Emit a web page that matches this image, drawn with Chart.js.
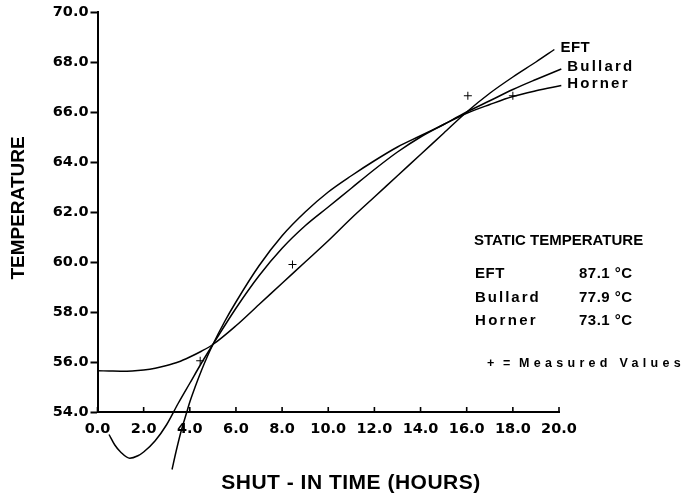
<!DOCTYPE html>
<html>
<head>
<meta charset="utf-8">
<script src="https://cdn.jsdelivr.net/npm/chart.js@4"></script>
<style>
body { margin: 0; background: #fff; }
canvas { display: block; }
</style>
</head>
<body>
<canvas id="chart" width="687" height="494"></canvas>
<script>
// curves (hours, temperature)
var eftX = [0, 0.5, 1, 1.5, 2, 2.5, 3, 3.5, 4, 4.5, 5, 6, 7, 8, 9, 10, 11, 12, 13, 14, 15, 16, 17, 18, 19, 19.8];
var eftY = [55.65, 55.64, 55.63, 55.64, 55.68, 55.75, 55.86, 56.0, 56.2, 56.43, 56.7, 57.45, 58.3, 59.15, 60.0, 60.85, 61.75, 62.6, 63.45, 64.3, 65.15, 66.0, 66.75, 67.4, 68.0, 68.5];

var bullardX = [0.5, 0.75, 1, 1.4, 1.75, 2, 2.5, 3, 3.5, 4, 4.5, 5, 6, 7, 8, 9, 10, 11, 12, 13, 14, 15, 16, 17, 18, 19, 20.1];
var bullardY = [53.1, 52.68, 52.4, 52.15, 52.25, 52.4, 52.85, 53.5, 54.35, 55.15, 55.95, 56.7, 58.15, 59.45, 60.55, 61.45, 62.2, 62.95, 63.7, 64.4, 65.0, 65.5, 66.0, 66.45, 66.9, 67.3, 67.72];

var hornerX = [3.23, 3.4, 3.6, 3.87, 4.0, 4.25, 4.5, 4.75, 5.0, 5.5, 6, 7, 8, 9, 10, 11, 12, 13, 14, 15, 16, 17, 18, 19, 20.1];
var hornerY = [51.7, 52.4, 53.15, 54.0, 54.4, 55.05, 55.65, 56.2, 56.7, 57.6, 58.4, 59.85, 61.05, 62.0, 62.8, 63.45, 64.05, 64.6, 65.05, 65.5, 65.95, 66.3, 66.62, 66.85, 67.06];

var measuredX = [4.45, 8.45, 16.05, 18.0];
var measuredY = [56.05, 59.9, 66.65, 66.65];

var methodNames = ["EFT", "Bullard", "Horner"];
var staticTemps = ["87.1 °C", "77.9 °C", "73.1 °C"];

var xTicks = [0, 2, 4, 6, 8, 10, 12, 14, 16, 18, 20];

function toPoints(xs, ys) {
	return xs.map(function (x, i) { return { x: x, y: ys[i] }; });
}

function curve(label, xs, ys) {
	return {
		type: "line",
		label: label,
		data: toPoints(xs, ys),
		borderColor: "#000",
		borderWidth: 1.5,
		pointRadius: 0,
		cubicInterpolationMode: "monotone",
		fill: false,
		clip: false
	};
}

function spaced(ctx, text, x, y, sp) {
	ctx.letterSpacing = sp + "px";
	ctx.fillText(text, x, y);
	ctx.letterSpacing = "0px";
}

// extra drawing: inward x ticks, axis titles and the text notes
var notes = {
	id: "notes",
	afterDraw: function (chart) {
		var ctx = chart.ctx;
		var xs = chart.scales.x, ys = chart.scales.y;
		ctx.save();
		ctx.strokeStyle = "#000";
		ctx.lineWidth = 1.6;
		xTicks.forEach(function (v) {
			var px = xs.getPixelForValue(v);
			ctx.beginPath();
			ctx.moveTo(px, ys.bottom);
			ctx.lineTo(px, ys.bottom - 5);
			ctx.stroke();
		});

		ctx.fillStyle = "#000";
		ctx.textBaseline = "middle";

		// axis titles
		ctx.font = "bold 21px 'Liberation Sans', Arial, sans-serif";
		ctx.textAlign = "center";
		spaced(ctx, "SHUT - IN TIME (HOURS)", 351, 483, 0.5);
		ctx.save();
		ctx.translate(19, 208);
		ctx.rotate(-Math.PI / 2);
		ctx.font = "bold 19px 'Liberation Sans', Arial, sans-serif";
		ctx.fillText("TEMPERATURE", 0, 0);
		ctx.restore();

		// curve end labels
		ctx.textAlign = "left";
		ctx.font = "bold 15px 'Liberation Sans', Arial, sans-serif";
		var ends = [[eftX, eftY, 0.5], [bullardX, bullardY, 2.2], [hornerX, hornerY, 2.2]];
		ends.forEach(function (e, i) {
			var n = e[0].length - 1;
			var px = xs.getPixelForValue(e[0][n]);
			var py = ys.getPixelForValue(e[1][n]);
			spaced(ctx, methodNames[i], px + 6, py - 2, e[2]);
		});

		// static temperature block
		ctx.font = "bold 15px 'Liberation Sans', Arial, sans-serif";
		ctx.fillText("STATIC TEMPERATURE", 474, 241);
		var rowY = [274, 298, 321];
		var sp = [0.5, 2, 2.3];
		methodNames.forEach(function (m, i) {
			spaced(ctx, m, 475, rowY[i], sp[i]);
			spaced(ctx, staticTemps[i], 579, rowY[i], 0.5);
		});
		ctx.font = "bold 12.5px 'Liberation Sans', Arial, sans-serif";
		spaced(ctx, "+", 487, 364, 0);
		spaced(ctx, "=", 503, 364, 0);
		spaced(ctx, "Measured Values", 519, 364, 4.3);
		ctx.restore();
	}
};

var tickFont = { family: "'DejaVu Sans', sans-serif", size: 14.5, weight: "bold" };

new Chart(document.getElementById("chart"), {
	data: {
		datasets: [
			curve("EFT", eftX, eftY),
			curve("Bullard", bullardX, bullardY),
			curve("Horner", hornerX, hornerY),
			{
				type: "scatter",
				label: "Measured Values",
				data: toPoints(measuredX, measuredY),
				pointStyle: "cross",
				pointRadius: 4,
				borderColor: "#000",
				borderWidth: 1,
				showLine: false
			}
		]
	},
	options: {
		responsive: false,
		animation: false,
		devicePixelRatio: 1,
		layout: { padding: { top: 12, right: 128, left: 0, bottom: 0 } },
		plugins: {
			legend: { display: false },
			tooltip: { enabled: false }
		},
		scales: {
			x: {
				type: "linear",
				min: 0,
				max: 20,
				afterFit: function (s) { s.height = 82; },
				afterBuildTicks: function (s) { s.ticks = xTicks.map(function (v) { return { value: v }; }); },
				border: { color: "#000", width: 2 },
				grid: { drawOnChartArea: false, drawTicks: false },
				ticks: {
					color: "#000",
					font: tickFont,
					padding: 9,
					maxRotation: 0,
					callback: function (v) { return v.toFixed(1); }
				}
			},
			y: {
				min: 54,
				max: 70,
				afterFit: function (s) { s.width = 97.5; },
				border: { color: "#000", width: 2 },
				grid: { drawOnChartArea: false, drawTicks: true, tickLength: 7, tickWidth: 2, tickColor: "#000" },
				ticks: {
					color: "#000",
					font: tickFont,
					stepSize: 2,
					padding: 2,
					callback: function (v) { return v.toFixed(1); }
				}
			}
		}
	},
	plugins: [notes]
});
</script>
</body>
</html>
